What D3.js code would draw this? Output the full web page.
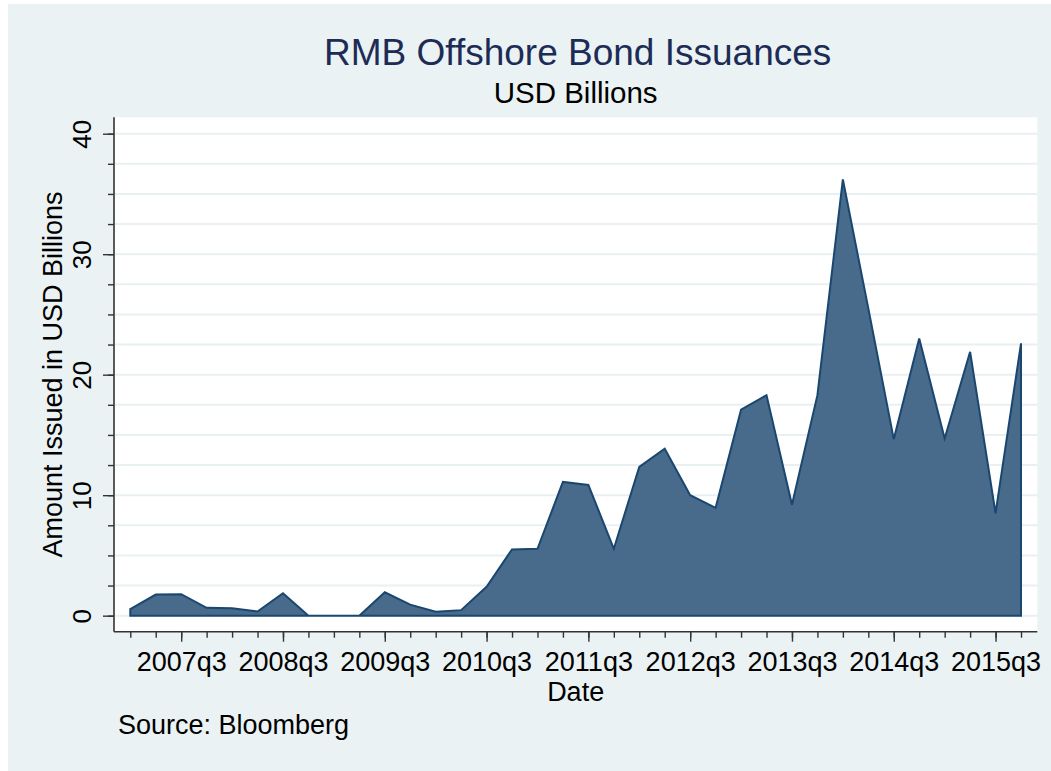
<!DOCTYPE html>
<html>
<head>
<meta charset="utf-8">
<script src="https://cdn.jsdelivr.net/npm/d3@7"></script>
<style>
  body { margin: 0; background: #ffffff; }
  svg text { font-family: Arial, "Liberation Sans", sans-serif; }
</style>
</head>
<body>
<div id="chart"></div>
<script>
// quarterly issuance, USD billions
const quarters = [
  "2007q1", "2007q2", "2007q3", "2007q4",
  "2008q1", "2008q2", "2008q3", "2008q4",
  "2009q1", "2009q2", "2009q3", "2009q4",
  "2010q1", "2010q2", "2010q3", "2010q4",
  "2011q1", "2011q2", "2011q3", "2011q4",
  "2012q1", "2012q2", "2012q3", "2012q4",
  "2013q1", "2013q2", "2013q3", "2013q4",
  "2014q1", "2014q2", "2014q3", "2014q4",
  "2015q1", "2015q2", "2015q3", "2015q4"
];
const amounts = [
  0.55, 1.75, 1.78, 0.65,
  0.62, 0.35, 1.86, 0,
  0, 0, 1.94, 0.92,
  0.32, 0.46, 2.4, 5.5,
  5.55, 11.1, 10.85, 5.55,
  12.35, 13.85, 10.0, 8.95,
  17.1, 18.3, 9.2, 18.3,
  36.2, 25.5, 14.65, 23.0,
  14.7, 21.9, 8.5, 22.6
];
const xTickLabels = ["2007q3", "2008q3", "2009q3", "2010q3", "2011q3",
                     "2012q3", "2013q3", "2014q3", "2015q3"];
const yTicks = [0, 10, 20, 30, 40];
const yMinorTicks = d3.range(0, 40.01, 2.5);

const width = 1051, height = 771;
const plot = { left: 114, right: 1037.3, top: 117.3, bottom: 631.7 };

const svg = d3.select("#chart").append("svg")
  .attr("width", width)
  .attr("height", height);

// outer graph region
svg.append("rect")
  .attr("x", 8).attr("y", 4)
  .attr("width", width - 8).attr("height", height - 4)
  .attr("fill", "#eaf2f3");

// plot region
svg.append("rect")
  .attr("x", plot.left).attr("y", plot.top)
  .attr("width", plot.right - plot.left)
  .attr("height", plot.bottom - plot.top)
  .attr("fill", "#ffffff");

const x = d3.scaleLinear()
  .domain([-0.64, quarters.length - 1 + 0.64])
  .range([plot.left, plot.right]);

const y = d3.scaleLinear()
  .domain([-1.33, 41.36])
  .range([plot.bottom, plot.top]);

// grid lines every 2.5
svg.append("g")
  .selectAll("line")
  .data(yMinorTicks)
  .enter()
  .append("line")
  .attr("x1", plot.left + 1).attr("x2", plot.right)
  .attr("y1", d => y(d)).attr("y2", d => y(d))
  .attr("stroke", "#e8f0f2")
  .attr("stroke-width", 2);

// area
const data = quarters.map((q, i) => ({ i: i, v: amounts[i] }));
const area = d3.area()
  .x(d => x(d.i))
  .y0(y(0))
  .y1(d => y(d.v));

svg.append("path")
  .datum(data)
  .attr("d", d => area(d) + "Z")
  .attr("fill", "#486a8b")
  .attr("stroke", "#1a476f")
  .attr("stroke-width", 2)
  .attr("stroke-linejoin", "miter");

// y axis: minor ticks, then major with labels
const yMinorAxis = d3.axisLeft(y)
  .tickValues(yMinorTicks)
  .tickSize(6)
  .tickFormat("");
svg.append("g")
  .attr("transform", `translate(${plot.left}, 0)`)
  .call(yMinorAxis)
  .call(g => g.select(".domain").remove())
  .selectAll("line").attr("stroke", "#333").attr("stroke-width", 1.4);

const yAxis = d3.axisLeft(y)
  .tickValues(yTicks)
  .tickSize(11)
  .tickFormat(d3.format("d"));
const yg = svg.append("g")
  .attr("transform", `translate(${plot.left}, 0)`)
  .call(yAxis);
yg.select(".domain")
  .attr("d", `M0,${plot.top}V${plot.bottom}`)
  .attr("stroke", "#333").attr("stroke-width", 1.6);
yg.selectAll("line").attr("stroke", "#333").attr("stroke-width", 1.4);
yg.selectAll("text")
  .attr("font-size", 26)
  .attr("fill", "#000")
  .attr("x", null).attr("dy", null)
  .attr("text-anchor", "middle")
  .attr("transform", d => `translate(${91 - plot.left}, 0) rotate(-90)`);

// x axis: quarter ticks, then labelled q3 ticks
const xMinorAxis = d3.axisBottom(x)
  .tickValues(d3.range(quarters.length))
  .tickSize(6)
  .tickFormat("");
svg.append("g")
  .attr("transform", `translate(0, ${plot.bottom})`)
  .call(xMinorAxis)
  .call(g => g.select(".domain").remove())
  .selectAll("line").attr("stroke", "#333").attr("stroke-width", 1.4);

const xAxis = d3.axisBottom(x)
  .tickValues(xTickLabels.map(l => quarters.indexOf(l)))
  .tickSize(10)
  .tickFormat(i => quarters[i]);
const xg = svg.append("g")
  .attr("transform", `translate(0, ${plot.bottom})`)
  .call(xAxis);
xg.select(".domain")
  .attr("d", `M${plot.left},0H${plot.right}`)
  .attr("stroke", "#333").attr("stroke-width", 1.6);
xg.selectAll("line").attr("stroke", "#333").attr("stroke-width", 1.4);
xg.selectAll("text")
  .attr("font-size", 27)
  .attr("fill", "#000")
  .attr("dy", null)
  .attr("y", 671 - plot.bottom);

// titles
const cx = (plot.left + plot.right) / 2;
svg.append("text")
  .attr("x", cx + 2).attr("y", 65)
  .attr("text-anchor", "middle")
  .attr("font-size", 37)
  .attr("fill", "#1c2c56")
  .text("RMB Offshore Bond Issuances");

svg.append("text")
  .attr("x", cx).attr("y", 103)
  .attr("text-anchor", "middle")
  .attr("font-size", 29.5)
  .attr("fill", "#000")
  .text("USD Billions");

svg.append("text")
  .attr("transform", `translate(62, ${(plot.top + plot.bottom) / 2}) rotate(-90)`)
  .attr("text-anchor", "middle")
  .attr("font-size", 27)
  .attr("fill", "#000")
  .text("Amount Issued in USD Billions");

svg.append("text")
  .attr("x", cx).attr("y", 701)
  .attr("text-anchor", "middle")
  .attr("font-size", 27)
  .attr("fill", "#000")
  .text("Date");

svg.append("text")
  .attr("x", 118).attr("y", 734)
  .attr("font-size", 27)
  .attr("fill", "#000")
  .text("Source: Bloomberg");
</script>
</body>
</html>
